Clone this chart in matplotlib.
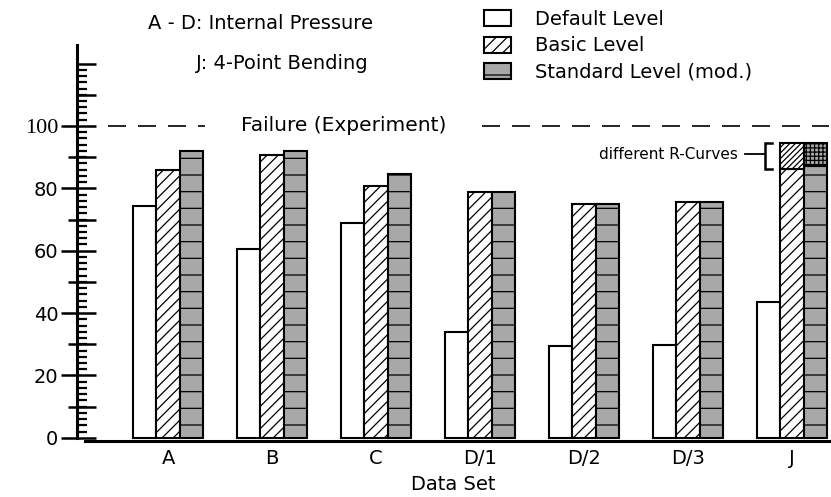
import matplotlib
matplotlib.use('Agg')
import matplotlib.pyplot as plt
import matplotlib.ticker as ticker
import numpy as np

plt.rcParams['font.family'] = ['DejaVu Sans']
plt.rcParams['hatch.linewidth'] = 0.9

# ── data ────────────────────────────────────────────────────────────────────
data_sets      = ['A', 'B', 'C', 'D/1', 'D/2', 'D/3', 'J']
default_level  = [74.5, 60.7, 68.9, 34.1, 29.3, 29.8, 43.7]
basic_level    = [85.8, 90.7, 80.9, 78.7, 75.1, 75.7, 86.3]
standard_level = [92.0, 92.1, 84.5, 78.7, 75.1, 75.7, 87.2]
j_r_curve_top  = 94.6      # J: upper bound reached with different R-curves
failure_level  = 100
series_labels  = ['Default Level', 'Basic Level', 'Standard Level (mod.)']

GRAY = '#a8a8a8'
px = 0.72  # points per pixel at dpi 100

fig = plt.figure(figsize=(8.31, 4.97), dpi=100)
ax = fig.add_axes([0.0927, 0.1127, 0.905, 0.797])

x = np.arange(len(data_sets))
bw = 0.224
b_def = ax.bar(x - bw, default_level, bw, color='white', edgecolor='black',
               lw=1.5, label=series_labels[0])
b_bas = ax.bar(x, basic_level, bw, color='white', edgecolor='black', hatch='///',
               lw=1.5, label=series_labels[1])
b_std = ax.bar(x + bw, standard_level, bw, color=GRAY, edgecolor='black', hatch='-',
               lw=1.5, label=series_labels[2])

# J: upper part with different R-curves
j = data_sets.index('J')
ax.bar(x[j], j_r_curve_top - basic_level[j], bw, bottom=basic_level[j],
       color='white', edgecolor='black', hatch='//////', lw=1.5)
ax.bar(x[j] + bw, j_r_curve_top - standard_level[j], bw, bottom=standard_level[j],
       color=GRAY, edgecolor='black', hatch='++++', lw=1.5)

# ── axes ────────────────────────────────────────────────────────────────────
ax.set_xlim(-0.875, 6.356)
ax.set_ylim(-1, 126)
ax.spines['top'].set_visible(False)
ax.spines['right'].set_visible(False)
ax.spines['left'].set_bounds(0, 126)
ax.spines['left'].set_linewidth(2.2)
ax.spines['bottom'].set_bounds(-0.8, 6.356)
ax.spines['bottom'].set_linewidth(2.2)

ax.set_yticks(range(0, 101, 20))
ax.tick_params(axis='y', which='major', direction='out', length=16 * px,
               width=1.8, labelsize=14, pad=2)
ax.yaxis.set_minor_locator(ticker.FixedLocator(np.arange(2, 119, 2)))
ax.tick_params(axis='y', which='minor', direction='in', length=10 * px, width=1.6)

sec_in = ax.secondary_yaxis('left')
sec_in.set_yticks(range(0, 121, 10))
sec_in.tick_params(direction='in', length=19 * px, width=1.8, labelleft=False)
sec_in.spines['left'].set_visible(False)

sec_out = ax.secondary_yaxis('left')
sec_out.set_yticks(range(10, 91, 20))
sec_out.tick_params(direction='out', length=9 * px, width=1.8, labelleft=False)
sec_out.spines['left'].set_visible(False)

ax.get_yticklabels()[-1].set_family('Liberation Serif')
ax.get_yticklabels()[-1].set_fontsize(16)

ax.set_xticks(x, data_sets)
ax.tick_params(axis='x', length=0, labelsize=14, pad=6)
ax.set_xlabel('Data Set', fontsize=14, labelpad=5)

# ── failure line ────────────────────────────────────────────────────────────
dash = (0, (10.8, 7.2))
ax.hlines(failure_level, -0.58, 0.36, colors='black', lw=1.2, linestyles=dash)
ax.hlines(failure_level, 3.02, 6.356, colors='black', lw=1.2, linestyles=dash)
ax.text(1.69, failure_level, 'Failure (Experiment)', ha='center', va='center',
        fontsize=14.5)

# ── R-curve annotation ──────────────────────────────────────────────────────
y_mid = 91.0
ax.text(5.48, y_mid, 'different R-Curves', ha='right', va='center', fontsize=11)
ax.plot([5.55, 5.74], [y_mid, y_mid], color='black', lw=1.3)
ax.plot([5.81, 5.74, 5.74, 5.81],
        [j_r_curve_top, j_r_curve_top, basic_level[j], basic_level[j]],
        color='black', lw=1.8, solid_joinstyle='miter')

# ── texts and legend ────────────────────────────────────────────────────────
fig.text(0.314, 0.953, 'A - D: Internal Pressure', ha='center', va='center', fontsize=14)
fig.text(0.340, 0.873, 'J: 4-Point Bending', ha='center', va='center', fontsize=14)

ax.legend(handles=[b_def, b_bas, b_std], loc='upper left',
          bbox_to_anchor=(484 / 831, 1 - 10 / 497), bbox_transform=fig.transFigure,
          frameon=False, fontsize=14, borderpad=0, borderaxespad=0,
          handlelength=1.4, handleheight=0.9, handletextpad=1.2, labelspacing=0.38)

fig.savefig('out.png', dpi=100)
